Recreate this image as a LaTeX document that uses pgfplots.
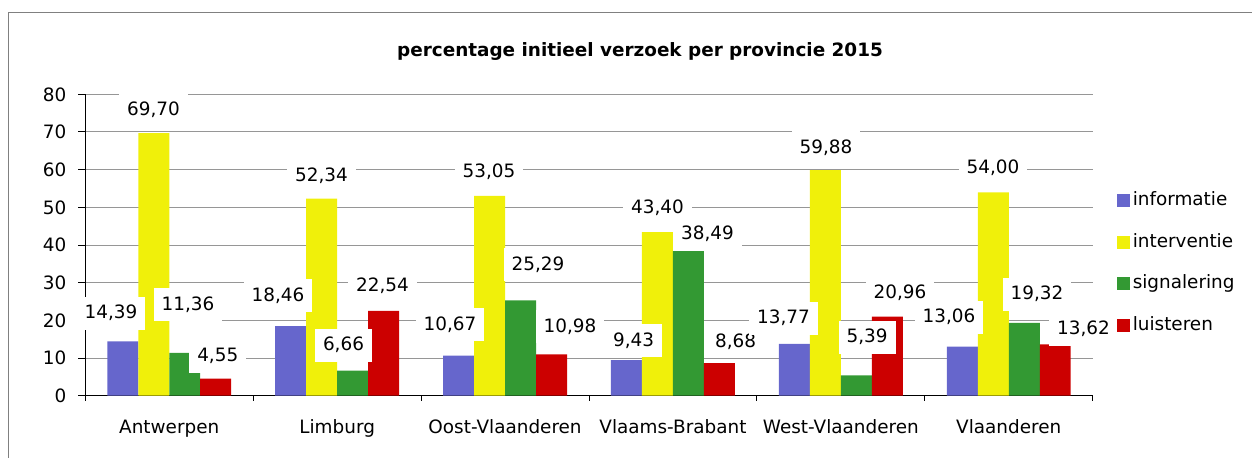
\documentclass[border=0pt]{standalone}
\usepackage{pgfplots}
\pgfplotsset{compat=1.18}
\usepackage{pgfplotstable}
\usepackage{fontspec}
\setmainfont{DejaVu Sans}
\newcommand\fs{\fontsize{9.2}{11}\selectfont}
\definecolor{cinfo}{RGB}{102,102,204}
\definecolor{cint}{RGB}{240,240,10}
\definecolor{csig}{RGB}{51,153,51}
\definecolor{clui}{RGB}{204,0,0}
\definecolor{cgrid}{RGB}{150,150,150}
\pgfplotsset{sq/.style={legend image code/.code={\fill[##1] (0pt,-3.25pt) rectangle (6.5pt,3.25pt);}}}

\pgfplotstableread{
x info int sig lui
0 14.39 69.70 11.36 4.55
1 18.46 52.34 6.66 22.54
2 10.67 53.05 25.29 10.98
3 9.43 43.40 38.49 8.68
4 13.77 59.88 5.39 20.96
5 13.06 54.00 19.32 13.62
}\data

\pgfplotstableread{
lx ly lab
-0.347 21.95 14,39
-0.094 75.8 69,70
0.112 24.1 11,36
0.289 10.5 4,55
0.648 26.5 18,46
0.907 58.3 52,34
1.038 13.3 6,66
1.270 29.1 22,54
1.672 18.8 10,67
1.904 59.3 53,05
2.196 34.7 25,29
2.387 18.3 10,98
2.766 14.6 9,43
2.908 49.7 43,40
3.206 42.9 38,49
3.373 14.3 8,68
3.658 20.5 13,77
3.912 65.8 59,88
4.156 15.5 5,39
4.352 27.2 20,96
4.644 20.8 13,06
4.906 60.4 54,00
5.168 26.9 19,32
5.445 17.6 13,62
}\labels

\begin{document}
\begin{tikzpicture}[font=\fs]
\useasboundingbox (0,0) rectangle (626pt,-228.5pt);
\draw[gray, line width=0.5pt] (4.15pt,-6.15pt) rectangle (640pt,-240pt);
\node[font=\fs\bfseries] at (320pt,-25.5pt) {percentage initieel verzoek per provincie 2015};
\begin{axis}[
  at={(42.65pt,-197.85pt)}, anchor=south west,
  scale only axis, width=503.7pt, height=150.7pt,
  xmin=-0.5, xmax=5.5, ymin=0, ymax=80,
  ytick={0,10,...,80},
  xtick={0,...,5},
  xticklabels={Antwerpen,Limburg,Oost-Vlaanderen,Vlaams-Brabant,West-Vlaanderen,Vlaanderen},
  minor xtick={-0.5,0.5,...,5.5},
  axis x line*=bottom, axis y line*=left,
  axis line style={black, line width=0.6pt},
  tick align=outside,
  major tick length=3.5pt, minor tick length=2.5pt,
  major x tick style={draw=none},
  every tick/.style={black, line width=0.5pt},
  ymajorgrids, major grid style={cgrid, line width=0.5pt},
  /pgf/number format/assume math mode=true,
  ticklabel style={font=\fs},
  xticklabel style={yshift=-5pt},
  yticklabel style={xshift=-2.5pt},
  clip=false,
  legend style={draw=none, fill=none, at={(1.0235,0.440)}, anchor=west, inner sep=0pt,
    font=\fs, row sep=12pt,
    nodes={inner xsep=1.5pt, inner ysep=0pt, text height=6.8pt, text depth=2pt}},
  legend cell align=left,
]
\addplot[ybar, bar width=0.1846, bar shift=-0.2769, fill=cinfo, draw=none, sq] table[x=x,y=info]{\data};
\addplot[ybar, bar width=0.1846, bar shift=-0.0923, fill=cint, draw=none, sq] table[x=x,y=int]{\data};
\addplot[ybar, bar width=0.1846, bar shift=0.0923, fill=csig, draw=none, sq] table[x=x,y=sig]{\data};
\addplot[ybar, bar width=0.1846, bar shift=0.2769, fill=clui, draw=none, sq] table[x=x,y=lui]{\data};
\legend{informatie,interventie,signalering,luisteren}
\addplot[draw=none, mark=none, forget plot, nodes near coords, point meta=explicit symbolic,
  every node near coord/.append style={fill=white, inner xsep=4pt, inner ysep=4.1pt,
    anchor=center, font=\fs, text height=6.8pt, text depth=1.5pt}]
  table[x=lx, y=ly, meta=lab]{\labels};
\end{axis}
\end{tikzpicture}
\end{document}
